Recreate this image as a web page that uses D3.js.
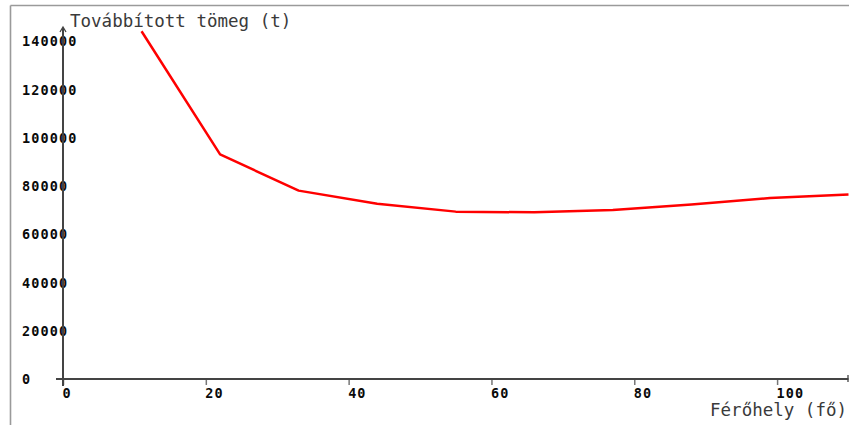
<!DOCTYPE html>
<html>
<head>
<meta charset="utf-8">
<script src="https://cdn.jsdelivr.net/npm/d3@7"></script>
<style>
  html, body { margin: 0; padding: 0; background: #fff; }
  svg { display: block; }
  .tick-label { font-family: "DejaVu Sans Mono", monospace; font-weight: bold; font-size: 13.5px; letter-spacing: 1.1px; fill: #0a0a0a; }
  .axis-title { font-family: "DejaVu Sans Mono", monospace; font-size: 17.5px; fill: #3a3a3a; }
</style>
</head>
<body>
<svg id="chart" width="849" height="425"></svg>
<script>
// Capacity (persons) against transported mass (t)
const capacity = [11, 22, 33, 44, 55, 66, 77, 88, 99, 110];
const mass = [144000, 93000, 78000, 72600, 69300, 69000, 70000, 72300, 74900, 76400];

const xTicks = [0, 20, 40, 60, 80, 100];
const yTicks = [0, 20000, 40000, 60000, 80000, 100000, 120000, 140000];

const xTitle = "Férőhely (fő)";
const yTitle = "Továbbított tömeg (t)";

const svg = d3.select("#chart");

const x = d3.scaleLinear().domain([0, 110]).range([63, 848.5]);
const y = d3.scaleLinear().domain([0, 145000]).range([379, 28.8]);

// outer frame (top and left edges)
svg.append("line").attr("x1", 10.5).attr("x2", 849).attr("y1", 5.5).attr("y2", 5.5)
  .attr("stroke", "#9a9a9a").attr("stroke-width", 1.6);
svg.append("line").attr("x1", 10.5).attr("x2", 10.5).attr("y1", 5.5).attr("y2", 425)
  .attr("stroke", "#9a9a9a").attr("stroke-width", 1.6);

// x axis
const gx = svg.append("g").attr("transform", `translate(0,${y(0)})`)
  .call(d3.axisBottom(x).tickValues(xTicks).tickSize(6).tickPadding(3).tickFormat(d3.format("d")));
gx.select(".domain").remove();
gx.selectAll(".tick line").attr("stroke", "#777").attr("stroke-width", 1.5);
gx.selectAll(".tick text").attr("class", "tick-label").attr("text-anchor", "start")
  .attr("dx", -1).attr("dy", "0.71em");

// y axis
const gy = svg.append("g").attr("transform", `translate(${x(0)},0)`)
  .call(d3.axisLeft(y).tickValues(yTicks).tickSize(0).tickPadding(0).tickFormat(d3.format("d")));
gy.select(".domain").remove();
gy.selectAll(".tick text").attr("class", "tick-label").attr("text-anchor", "start")
  .attr("x", 22 - x(0)).attr("dy", "0.36em");

// axis lines
svg.append("line").attr("x1", 56).attr("x2", 848.5).attr("y1", y(0)).attr("y2", y(0))
  .attr("stroke", "#444").attr("stroke-width", 2);
svg.append("line").attr("x1", x(0)).attr("x2", x(0)).attr("y1", 28).attr("y2", 386)
  .attr("stroke", "#444").attr("stroke-width", 2);
// arrow tip of y axis
svg.append("path").attr("d", `M${x(0) - 3},${32} L${x(0)},${27} L${x(0) + 3},${32}`)
  .attr("fill", "none").attr("stroke", "#444").attr("stroke-width", 1.3);
// end mark of x axis
svg.append("line").attr("x1", 848).attr("x2", 848).attr("y1", y(0) - 4).attr("y2", y(0) + 3)
  .attr("stroke", "#444").attr("stroke-width", 1.3);

// data line
const line = d3.line().x((d, i) => x(capacity[i])).y(d => y(d));
svg.append("path").datum(mass).attr("d", line)
  .attr("fill", "none").attr("stroke", "#ff0000").attr("stroke-width", 2.5)
  .attr("stroke-linejoin", "round");

// axis titles
svg.append("text").attr("class", "axis-title").attr("x", 70).attr("y", 27).text(yTitle);
svg.append("text").attr("class", "axis-title").attr("x", 847).attr("y", 416)
  .attr("text-anchor", "end").text(xTitle);
</script>
</body>
</html>
